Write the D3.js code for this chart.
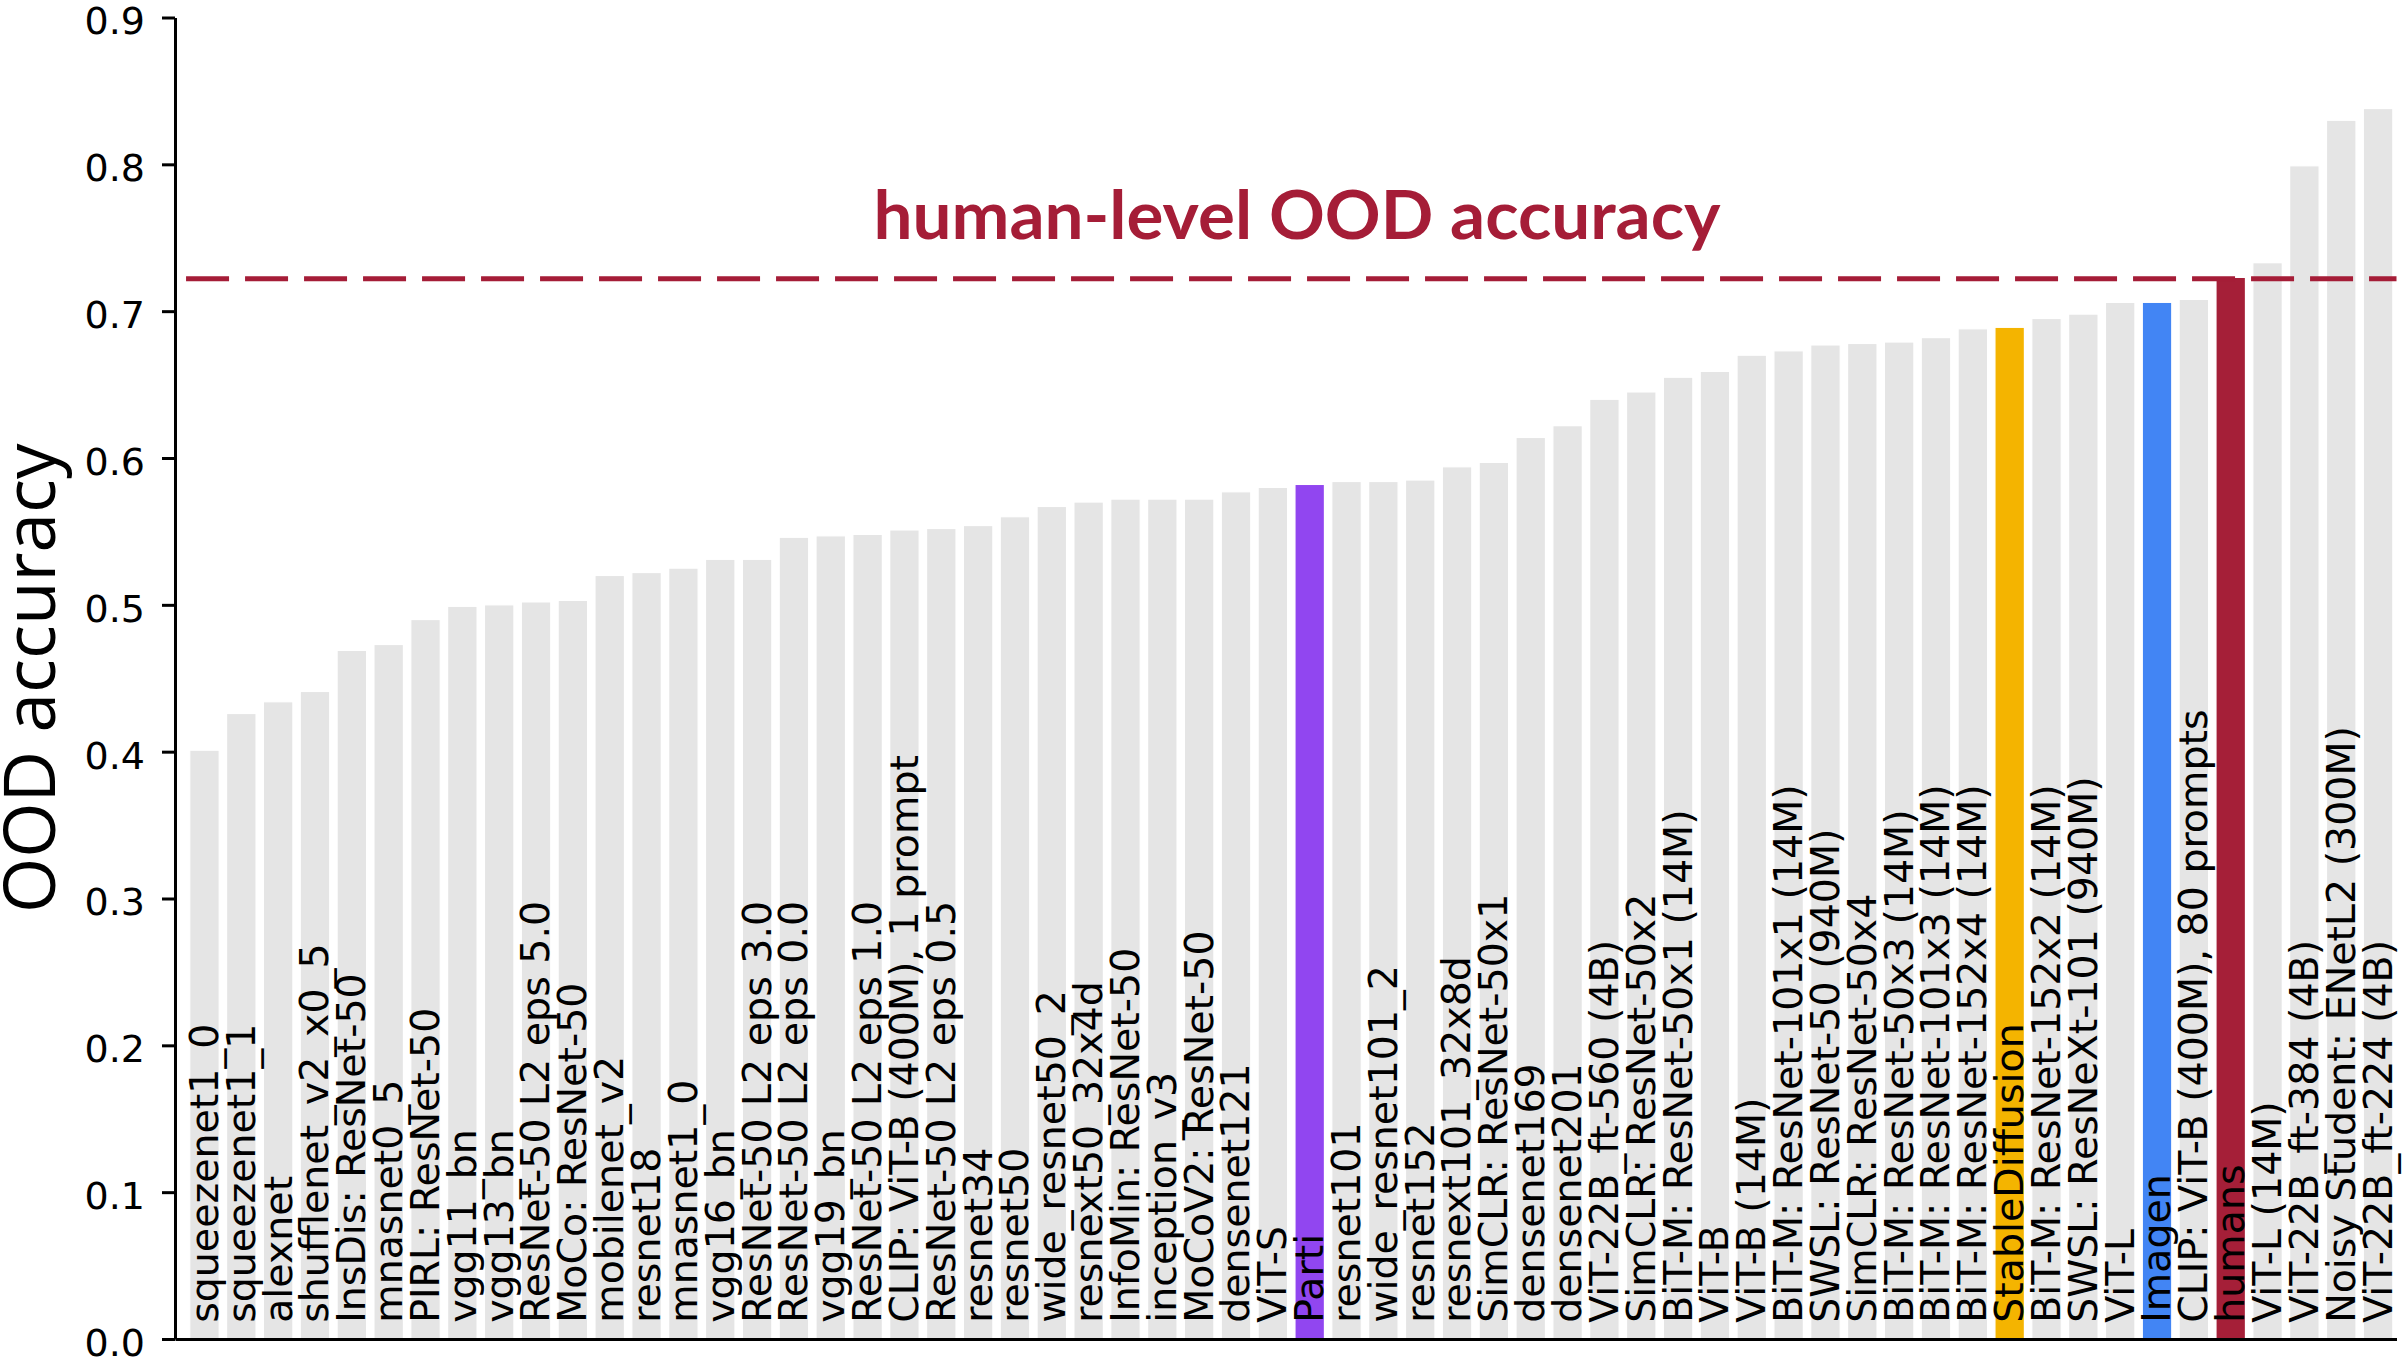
<!DOCTYPE html>
<html>
<head>
<meta charset="utf-8">
<script src="https://cdn.jsdelivr.net/npm/d3@7"></script>
<style>
	body { margin: 0; background: #ffffff; }
	svg { display: block; }
</style>
</head>
<body>
<div id="chart"></div>
<script>
///////////////////////////////////////////////////////////////////////////
///////////////////////////////// Data ////////////////////////////////////
///////////////////////////////////////////////////////////////////////////

var models = [
	"squeezenet1_0", "squeezenet1_1", "alexnet", "shufflenet_v2_x0_5", "InsDis: ResNet-50",
	"mnasnet0_5", "PIRL: ResNet-50", "vgg11_bn", "vgg13_bn", "ResNet-50 L2 eps 5.0",
	"MoCo: ResNet-50", "mobilenet_v2", "resnet18", "mnasnet1_0", "vgg16_bn",
	"ResNet-50 L2 eps 3.0", "ResNet-50 L2 eps 0.0", "vgg19_bn", "ResNet-50 L2 eps 1.0", "CLIP: ViT-B (400M), 1 prompt",
	"ResNet-50 L2 eps 0.5", "resnet34", "resnet50", "wide_resnet50_2", "resnext50_32x4d",
	"InfoMin: ResNet-50", "inception_v3", "MoCoV2: ResNet-50", "densenet121", "ViT-S",
	"Parti", "resnet101", "wide_resnet101_2", "resnet152", "resnext101_32x8d",
	"SimCLR: ResNet-50x1", "densenet169", "densenet201", "ViT-22B_ft-560 (4B)", "SimCLR: ResNet-50x2",
	"BiT-M: ResNet-50x1 (14M)", "ViT-B", "ViT-B (14M)", "BiT-M: ResNet-101x1 (14M)", "SWSL: ResNet-50 (940M)",
	"SimCLR: ResNet-50x4", "BiT-M: ResNet-50x3 (14M)", "BiT-M: ResNet-101x3 (14M)", "BiT-M: ResNet-152x4 (14M)", "StableDiffusion",
	"BiT-M: ResNet-152x2 (14M)", "SWSL: ResNeXt-101 (940M)", "ViT-L", "Imagen", "CLIP: ViT-B (400M), 80 prompts",
	"humans", "ViT-L (14M)", "ViT-22B_ft-384 (4B)", "Noisy Student: ENetL2 (300M)", "ViT-22B_ft-224 (4B)"
];

var oodAccuracy = [
	0.401, 0.426, 0.434, 0.441, 0.469,
	0.473, 0.490, 0.499, 0.500, 0.502,
	0.503, 0.520, 0.522, 0.525, 0.531,
	0.531, 0.546, 0.547, 0.548, 0.551,
	0.552, 0.554, 0.560, 0.567, 0.570,
	0.572, 0.572, 0.572, 0.577, 0.580,
	0.582, 0.584, 0.584, 0.585, 0.594,
	0.597, 0.614, 0.622, 0.640, 0.645,
	0.655, 0.659, 0.670, 0.673, 0.677,
	0.678, 0.679, 0.682, 0.688, 0.689,
	0.695, 0.698, 0.706, 0.706, 0.708,
	0.723, 0.733, 0.799, 0.830, 0.838
];

//Highlighted bars, everything else is grey
var highlightNames = ["Parti", "StableDiffusion", "Imagen", "humans"];
var highlightColors = ["#9146f0", "#f4b400", "#4285f4", "#a51f38"];

var humanLevel = 0.722;
var yTicks = [0.0, 0.1, 0.2, 0.3, 0.4, 0.5, 0.6, 0.7, 0.8, 0.9];

///////////////////////////////////////////////////////////////////////////
//////////////////////////////// Set-up ///////////////////////////////////
///////////////////////////////////////////////////////////////////////////

var width = 2406,
	height = 1365,
	barColor = "#e5e5e5",
	accent = "#a51d37";

var svg = d3.select("#chart").append("svg")
	.attr("width", width)
	.attr("height", height);

svg.append("rect")
	.attr("width", width)
	.attr("height", height)
	.attr("fill", "#ffffff");

var xScale = d3.scaleLinear()
	.domain([-0.8, models.length - 0.5])
	.range([175, 2396.5]);

var yScale = d3.scaleLinear()
	.domain([0, 0.9])
	.range([1339, 17.5]);

var barWidth = 0.8;

var colorOf = function(name) {
	var k = highlightNames.indexOf(name);
	return k === -1 ? barColor : highlightColors[k];
};

///////////////////////////////////////////////////////////////////////////
///////////////////////////////// Bars ////////////////////////////////////
///////////////////////////////////////////////////////////////////////////

var barWrapper = svg.append("g").attr("class", "barWrapper");

barWrapper.selectAll(".bar")
	.data(models)
	.enter().append("rect")
	.attr("class", "bar")
	.attr("x", function(d, i) { return xScale(i - barWidth/2); })
	.attr("width", xScale(barWidth) - xScale(0))
	.attr("y", function(d, i) { return yScale(oodAccuracy[i]); })
	.attr("height", function(d, i) { return yScale(0) - yScale(oodAccuracy[i]); })
	.attr("fill", function(d) { return colorOf(d); })
	.attr("stroke", "#ffffff")
	.attr("stroke-width", 1.2);

//Model names written inside the bars, bottom to top
barWrapper.selectAll(".barLabel")
	.data(models)
	.enter().append("text")
	.attr("class", "barLabel")
	.attr("transform", function(d, i) {
		return "translate(" + xScale(i) + "," + yScale(0.011) + ") rotate(-90)";
	})
	.attr("dy", "0.34em")
	.style("text-anchor", "start")
	.style("font-family", "'DejaVu Sans', sans-serif")
	.style("font-size", "39.5px")
	.attr("fill", "#000000")
	.text(function(d) { return d; });

///////////////////////////////////////////////////////////////////////////
///////////////////////////////// Axes ////////////////////////////////////
///////////////////////////////////////////////////////////////////////////

var yAxis = svg.append("g")
	.attr("class", "y axis")
	.attr("transform", "translate(" + xScale(-0.8) + ",0)")
	.call(d3.axisLeft(yScale)
		.tickValues(yTicks)
		.tickFormat(d3.format(".1f"))
		.tickSize(13)
		.tickSizeOuter(0)
		.tickPadding(17));

yAxis.select(".domain").attr("stroke", "#000").attr("stroke-width", 3);
yAxis.selectAll(".tick line").attr("stroke", "#000").attr("stroke-width", 3);
yAxis.selectAll(".tick text")
	.attr("fill", "#000")
	.attr("dy", "0.43em")
	.style("font-family", "'DejaVu Sans', sans-serif")
	.style("font-size", "38px");

var xAxis = svg.append("g")
	.attr("class", "x axis")
	.attr("transform", "translate(0," + yScale(0) + ")")
	.call(d3.axisBottom(xScale).tickValues([]).tickSizeOuter(0));

xAxis.select(".domain").attr("stroke", "#000").attr("stroke-width", 3);

//Axis title
svg.append("text")
	.attr("class", "yTitle")
	.attr("transform", "translate(55," + ((yScale(0) + yScale(0.9))/2) + ") rotate(-90)")
	.style("text-anchor", "middle")
	.style("font-family", "'Open Sans', sans-serif")
	.style("font-size", "71px")
	.attr("fill", "#000")
	.text("OOD accuracy");

///////////////////////////////////////////////////////////////////////////
///////////////////////// Human level reference ///////////////////////////
///////////////////////////////////////////////////////////////////////////

svg.append("line")
	.attr("class", "humanLine")
	.attr("x1", xScale(-0.5))
	.attr("x2", xScale(models.length - 0.5))
	.attr("y1", yScale(humanLevel))
	.attr("y2", yScale(humanLevel))
	.attr("stroke", accent)
	.attr("stroke-width", 5)
	.attr("stroke-dasharray", "43,16");

svg.append("text")
	.attr("class", "humanTitle")
	.attr("x", 1297)
	.attr("y", 239)
	.attr("textLength", 847)
	.attr("lengthAdjust", "spacingAndGlyphs")
	.style("text-anchor", "middle")
	.style("font-family", "Lato, 'Open Sans', sans-serif")
	.style("font-weight", "bold")
	.style("font-size", "67px")
	.attr("fill", accent)
	.text("human-level OOD accuracy");
</script>
</body>
</html>
